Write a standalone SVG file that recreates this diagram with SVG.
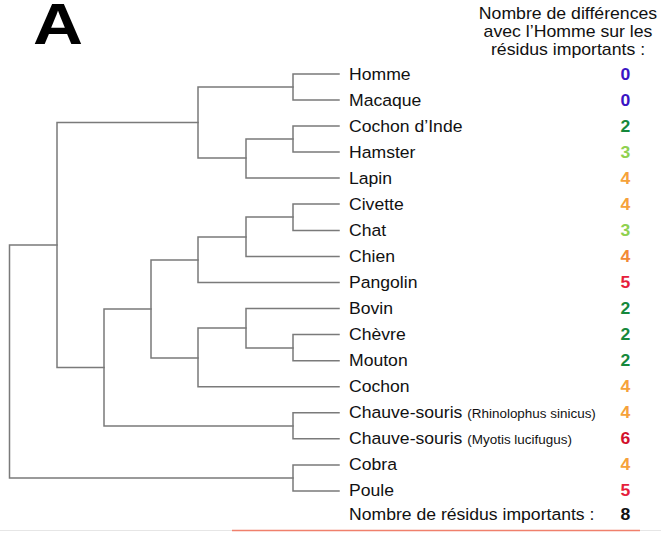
<svg xmlns="http://www.w3.org/2000/svg" width="661" height="533" viewBox="0 0 661 533">
<style>
.lbl{font-family:"Liberation Sans",Arial,sans-serif;font-size:17px;fill:#111}
.sp{font-size:13px}
.num{font-family:"Liberation Sans",Arial,sans-serif;font-size:16px;font-weight:bold;text-anchor:middle}
.hdr{font-family:"Liberation Sans",Arial,sans-serif;font-size:17px;fill:#111;text-anchor:middle}
.tree{fill:none;stroke:#7a7a7a;stroke-width:1.5;stroke-linecap:square}
.c0{fill:#3a14c4}.c2{fill:#15883c}.c3{fill:#8fd150}.c4{fill:#f6a23a}.c4b{fill:#f28a36}.c5{fill:#e61e3c}.c6{fill:#d2102c}.c8{fill:#111}
</style>
<rect width="661" height="533" fill="#fff"/>
<text x="33" y="44" font-family="Liberation Sans,Arial,sans-serif" font-weight="bold" font-size="57" textLength="50" lengthAdjust="spacingAndGlyphs" fill="#000">A</text>
<g id="header" transform="matrix(1.04,0,0,1,-22.72,0)">
<text class="hdr" x="568" y="19">Nombre de différences</text>
<text class="hdr" x="568" y="37">avec l’Homme sur les</text>
<text class="hdr" x="568" y="55">résidus importants :</text>
</g>
<g id="connectors" class="tree">
<path d="M9.5 245V478M9.5 245H57M9.5 478H293"/>
<path d="M57 122.5V367.5M57 122.5H198M57 367.5H104"/>
<path d="M198 87V158M198 87H293M198 158H246"/>
<path d="M293 74V100M293 74H339M293 100H339"/>
<path d="M246 139V178M246 139H293M246 178H339"/>
<path d="M293 126V152M293 126H339M293 152H339"/>
<path d="M104 309V426M104 309H151M104 426H293"/>
<path d="M151 260V358M151 260H198M151 358H198"/>
<path d="M198 237V282.5M198 237H246M198 282.5H339"/>
<path d="M246 217V256.5M246 217H293M246 256.5H339"/>
<path d="M293 204V230.5M293 204H339M293 230.5H339"/>
<path d="M198 328V386.7M198 328H246M198 386.7H339"/>
<path d="M246 308.5V348M246 308.5H339M246 348H293"/>
<path d="M293 334.6V360.7M293 334.6H339M293 360.7H339"/>
<path d="M293 412.8V438.8M293 412.8H339M293 438.8H339"/>
<path d="M293 464.9V491M293 464.9H339M293 491H339"/>
</g>
<g id="labels" transform="matrix(1.035,0,0,1,-12.215,0)">
<g id="homme"><text class="lbl" x="349" y="80">Homme</text></g>
<g id="macaque"><text class="lbl" x="349" y="106">Macaque</text></g>
<g id="cochon-inde"><text class="lbl" x="349" y="132">Cochon d’Inde</text></g>
<g id="hamster"><text class="lbl" x="349" y="158">Hamster</text></g>
<g id="lapin"><text class="lbl" x="349" y="184">Lapin</text></g>
<g id="civette"><text class="lbl" x="349" y="210">Civette</text></g>
<g id="chat"><text class="lbl" x="349" y="236.5">Chat</text></g>
<g id="chien"><text class="lbl" x="349" y="262.5">Chien</text></g>
<g id="pangolin"><text class="lbl" x="349" y="288.5">Pangolin</text></g>
<g id="bovin"><text class="lbl" x="349" y="314.5">Bovin</text></g>
<g id="chevre"><text class="lbl" x="349" y="340.5">Chèvre</text></g>
<g id="mouton"><text class="lbl" x="349" y="366.5">Mouton</text></g>
<g id="cochon"><text class="lbl" x="349" y="392.5">Cochon</text></g>
<g id="chauve-r"><text class="lbl" x="349" y="418.5">Chauve-souris <tspan class="sp">(Rhinolophus sinicus)</tspan></text></g>
<g id="chauve-m"><text class="lbl" x="349" y="444.5">Chauve-souris <tspan class="sp">(Myotis lucifugus)</tspan></text></g>
<g id="cobra"><text class="lbl" x="349" y="470.5">Cobra</text></g>
<g id="poule"><text class="lbl" x="349" y="496.5">Poule</text></g>
<g id="total"><text class="lbl" x="349" y="520">Nombre de résidus importants :</text></g>
</g>
<g id="numbers" transform="matrix(1.1,0,0,1,-62.55,0)">
<text class="num c0" x="625.5" y="80">0</text>
<text class="num c0" x="625.5" y="106">0</text>
<text class="num c2" x="625.5" y="132">2</text>
<text class="num c3" x="625.5" y="158">3</text>
<text class="num c4" x="625.5" y="184">4</text>
<text class="num c4" x="625.5" y="210">4</text>
<text class="num c3" x="625.5" y="236.5">3</text>
<text class="num c4b" x="625.5" y="262.5">4</text>
<text class="num c5" x="625.5" y="288.5">5</text>
<text class="num c2" x="625.5" y="314.5">2</text>
<text class="num c2" x="625.5" y="340.5">2</text>
<text class="num c2" x="625.5" y="366.5">2</text>
<text class="num c4" x="625.5" y="392.5">4</text>
<text class="num c4" x="625.5" y="418.5">4</text>
<text class="num c6" x="625.5" y="444.5">6</text>
<text class="num c4" x="625.5" y="470.5">4</text>
<text class="num c5" x="625.5" y="496.5">5</text>
<text class="num c8" x="625.5" y="520">8</text>
</g>
<line x1="0" y1="530.5" x2="661" y2="530.5" stroke="#e6e6e6" stroke-width="1"/>
<line x1="232" y1="530.5" x2="640" y2="530.5" stroke="#f0806c" stroke-width="1.5"/>
</svg>
